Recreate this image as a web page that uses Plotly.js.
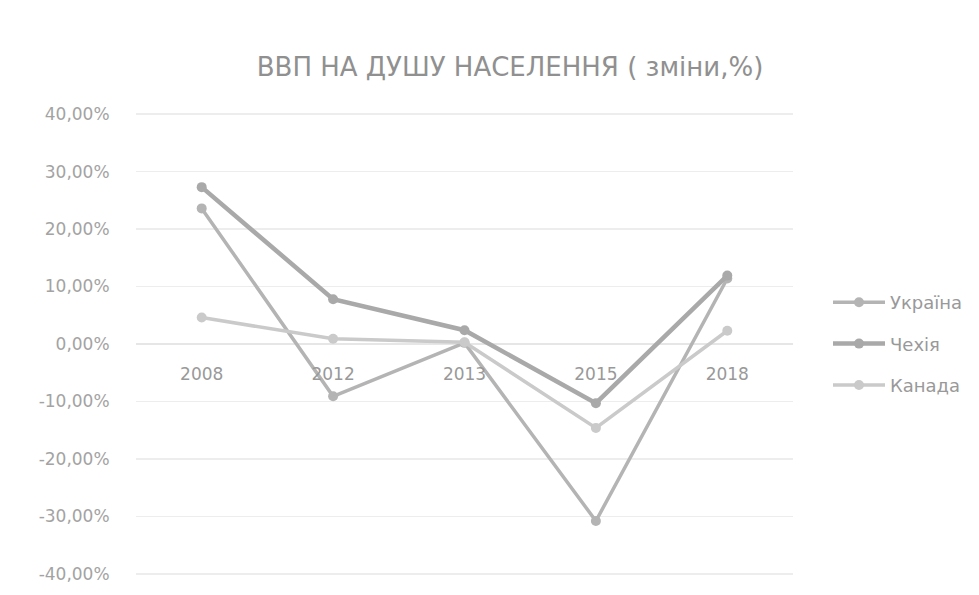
<!DOCTYPE html>
<html>
<head>
<meta charset="utf-8">
<script src="https://cdn.plot.ly/plotly-3.0.1.min.js"></script>
<style>html,body{margin:0;padding:0;background:#fff;}#chart{width:979px;height:595px;}</style>
</head>
<body>
<div id="chart"></div>
<script>
const years = ['2008', '2012', '2013', '2015', '2018'];
const ukraine = [0.236, -0.091, 0.002, -0.308, 0.114];
const czechia = [0.273, 0.078, 0.024, -0.103, 0.119];
const canada = [0.046, 0.009, 0.003, -0.146, 0.023];
const seriesNames = ['Україна', 'Чехія', 'Канада'];
const yTickVals = [0.4, 0.3, 0.2, 0.1, 0, -0.1, -0.2, -0.3, -0.4];
const yTickText = ['40,00%', '30,00%', '20,00%', '10,00%', '0,00%', '-10,00%', '-20,00%', '-30,00%', '-40,00%'];

const styles = [
  {color: '#b4b4b4', width: 3.5},
  {color: '#a9a9a9', width: 4.5},
  {color: '#cacaca', width: 3.5}
];
const values = [ukraine, czechia, canada];

const traces = values.map((v, i) => ({
  type: 'scatter',
  mode: 'lines+markers',
  x: years,
  y: v,
  name: seriesNames[i],
  legendgroup: 'g' + i,
  line: {color: styles[i].color, width: styles[i].width},
  marker: {color: styles[i].color, size: 10}
}));

const fam = '"DejaVu Sans", sans-serif';

const layout = {
  width: 979,
  height: 595,
  paper_bgcolor: '#ffffff',
  plot_bgcolor: '#ffffff',
  margin: {l: 136, r: 186, t: 113, b: 20},
  font: {family: fam, color: '#979797', size: 17},
  title: {
    text: 'ВВП НА ДУШУ НАСЕЛЕННЯ ( зміни,%)',
    font: {family: fam, size: 26, color: '#909090'},
    x: 510 / 979,
    xref: 'container',
    xanchor: 'center',
    y: 1 - 67 / 595,
    yref: 'container',
    yanchor: 'middle'
  },
  xaxis: {
    type: 'category',
    range: [-0.5, 4.5],
    anchor: 'free',
    position: 0.5,
    showgrid: false,
    zeroline: false,
    showline: false,
    ticks: 'outside',
    ticklen: 15,
    tickcolor: 'rgba(0,0,0,0)',
    tickfont: {family: fam, size: 17, color: '#999999'},
    fixedrange: true
  },
  yaxis: {
    range: [-0.402, 0.402],
    tickvals: yTickVals,
    ticktext: yTickText,
    showgrid: true,
    gridcolor: '#ededed',
    gridwidth: 1.5,
    zeroline: true,
    zerolinecolor: '#e6e6e6',
    zerolinewidth: 1.5,
    showline: false,
    ticks: 'outside',
    ticklen: 22,
    tickcolor: 'rgba(0,0,0,0)',
    tickfont: {family: fam, size: 17, color: '#a3a3a3'},
    fixedrange: true
  },
  showlegend: true,
  legend: {
    x: 828 / 979,
    xref: 'container',
    xanchor: 'left',
    y: 0.5,
    yanchor: 'middle',
    itemwidth: 52,
    tracegroupgap: 15,
    font: {family: fam, size: 18, color: '#999999'},
    bgcolor: 'rgba(0,0,0,0)'
  }
};

Plotly.newPlot('chart', traces, layout, {displayModeBar: false, staticPlot: true});
</script>
</body>
</html>
